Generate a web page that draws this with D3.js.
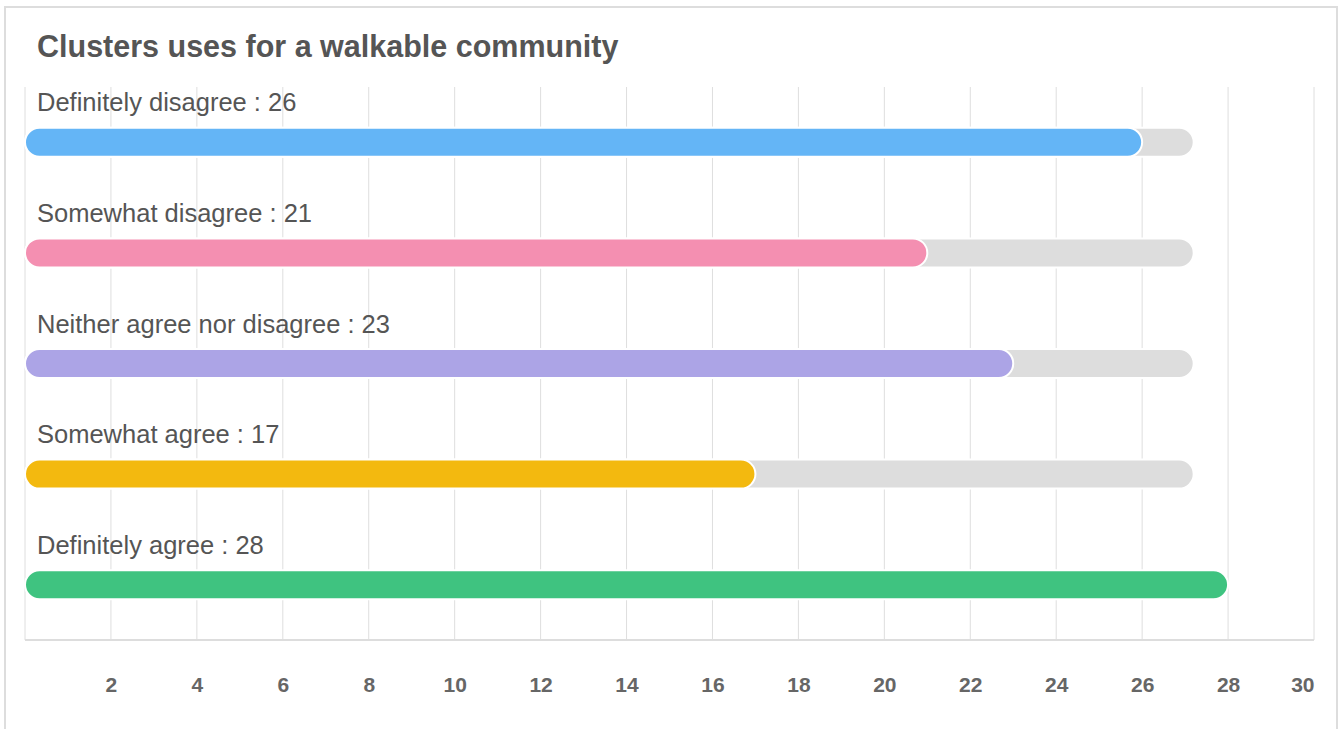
<!DOCTYPE html>
<html>
<head>
<meta charset="utf-8">
<script src="https://cdn.jsdelivr.net/npm/d3@7"></script>
<style>
  html, body { margin: 0; padding: 0; background: #fff; }
  svg { display: block; font-family: "Liberation Sans", Arial, Helvetica, sans-serif; }
</style>
</head>
<body>
<svg id="chart" width="1340" height="729"></svg>
<script>
// Survey answers and their counts
const categories = [
  "Definitely disagree",
  "Somewhat disagree",
  "Neither agree nor disagree",
  "Somewhat agree",
  "Definitely agree"
];
const values = [26, 21, 23, 17, 28];
const barColors = ["#64b5f6", "#f48fb1", "#aca4e6", "#f3b90f", "#3fc380"];
const trackValue = 27.2;          // length of the grey background track
const tickValues = [2, 4, 6, 8, 10, 12, 14, 16, 18, 20, 22, 24, 26, 28, 30];
const xDomain = [0, 30];
const title = "Clusters uses for a walkable community";

const svg = d3.select("#chart");
const W = 1340, H = 729;

// card frame
svg.append("rect")
  .attr("x", 5).attr("y", 7).attr("width", 1332).attr("height", H + 10)
  .attr("fill", "#fff").attr("stroke", "#dddddd").attr("stroke-width", 2);

svg.append("text")
  .attr("x", 37).attr("y", 57)
  .attr("fill", "#555").attr("font-size", 30.5).attr("font-weight", "bold")
  .text(title);

const plot = { left: 25, right: 1314, top: 87, bottom: 640 };

const x = d3.scaleLinear().domain(xDomain).range([plot.left, plot.right]);
const y = d3.scaleBand().domain(categories).range([plot.top, plot.bottom]);

// vertical grid lines
svg.append("g")
  .selectAll("line")
  .data(tickValues)
  .join("line")
  .attr("x1", d => x(d)).attr("x2", d => x(d))
  .attr("y1", plot.top).attr("y2", plot.bottom)
  .attr("stroke", "#dedede").attr("stroke-width", 1);

// left plot edge
svg.append("line")
  .attr("x1", plot.left).attr("x2", plot.left)
  .attr("y1", plot.top).attr("y2", plot.bottom)
  .attr("stroke", "#dedede").attr("stroke-width", 1);

// bottom axis
const axis = d3.axisBottom(x).tickValues(tickValues).tickSize(0).tickPadding(0);
const gAxis = svg.append("g")
  .attr("transform", `translate(0,${plot.bottom})`)
  .call(axis);
gAxis.select(".domain")
  .attr("stroke", "#dddddd").attr("stroke-width", 2)
  .attr("d", `M${plot.left},0H${plot.right}`);
gAxis.selectAll(".tick text")
  .attr("y", 52)
  .attr("dy", 0)
  .attr("fill", "#666")
  .attr("font-size", 21)
  .attr("font-weight", "bold")
  .attr("font-family", "'Liberation Sans', Arial, sans-serif")
  .attr("text-anchor", d => d === xDomain[1] ? "end" : "middle")
  .attr("x", 0);

const barH = 29;
const rows = svg.append("g")
  .selectAll("g")
  .data(categories.map((c, i) => ({ c, v: values[i], color: barColors[i] })))
  .join("g")
  .attr("transform", d => `translate(0,${y(d.c) + y.bandwidth() / 2})`);

// grey track
rows.filter(d => d.v < trackValue)
  .append("rect")
  .attr("x", x(0)).attr("y", -barH / 2)
  .attr("width", x(trackValue) - x(0)).attr("height", barH)
  .attr("rx", barH / 2)
  .attr("fill", "#dddddd").attr("stroke", "#fff").attr("stroke-width", 2);

// value bar
rows.append("rect")
  .attr("x", x(0)).attr("y", -barH / 2)
  .attr("width", d => x(d.v) - x(0)).attr("height", barH)
  .attr("rx", barH / 2)
  .attr("fill", d => d.color).attr("stroke", "#fff").attr("stroke-width", 2);

// row label
rows.append("text")
  .attr("x", 37).attr("y", -31)
  .attr("fill", "#555").attr("font-size", 25.5)
  .text(d => `${d.c} : ${d.v}`);
</script>
</body>
</html>
